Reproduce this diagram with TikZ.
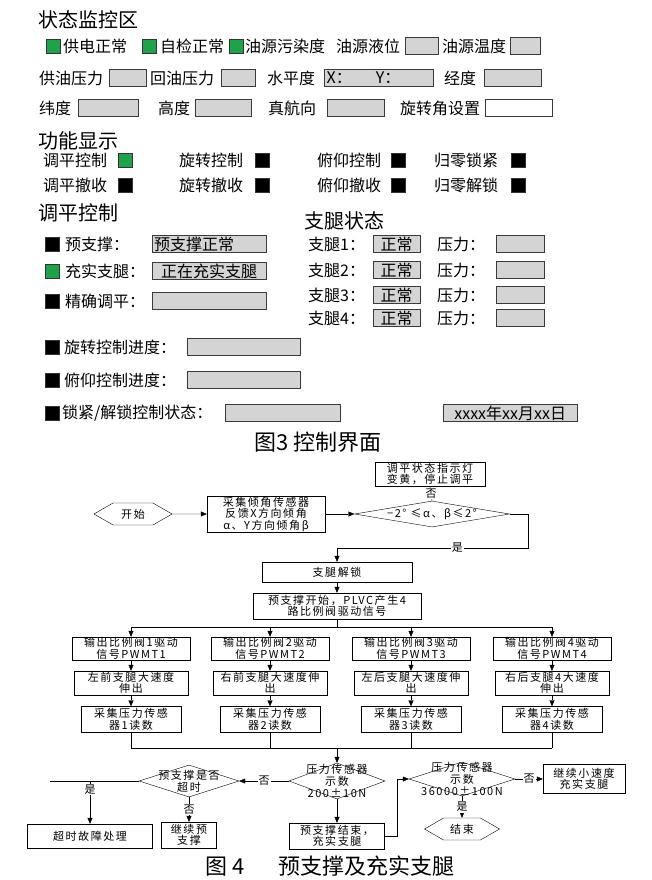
\documentclass[tikz,border=0pt]{standalone}
\usepackage{fontspec}
\newfontfamily\cjk{Noto Sans CJK SC}
\newfontfamily\cjkw[LetterSpace=14]{Noto Sans CJK SC}
\usepackage{tikz}
\usetikzlibrary{arrows.meta,positioning,shapes.geometric,shapes.symbols}
\usepackage{xcolor}
\definecolor{LampGreen}{HTML}{1FA24A}
\definecolor{PanelGray}{HTML}{D4D4D4}
\definecolor{EdgeGray}{HTML}{3A3A3A}

\begin{document}
\begin{tikzpicture}[x=1pt,y=-1pt,>={Triangle[length=6pt,width=5pt]},
  every node/.style={font=\cjk\fontsize{16}{18}\selectfont},
  head/.style={anchor=west,inner sep=0pt,font=\cjk\fontsize{20}{22}\selectfont},
  lbl/.style={anchor=west,inner sep=0pt},
  lamp/.style={draw=black!80,fill=#1,minimum size=14pt,inner sep=0pt},
  lamp/.default=black,
  field/.style={anchor=west,draw=EdgeGray,fill=PanelGray,minimum width=#1,minimum height=17pt,inner sep=1pt},
  proc/.style={draw,align=center,inner sep=0.5pt,font=\cjkw\fontsize{11}{11.5}\selectfont},
  dec/.style={diamond,draw,inner sep=0pt},
  dtxt/.style={align=center,inner sep=0pt,font=\cjkw\fontsize{11}{12}\selectfont},
  term/.style={shape=signal,signal to=west and east,signal pointer angle=60,draw,inner sep=1pt,font=\cjkw\fontsize{11}{12}\selectfont},
  tag/.style={fill=white,inner sep=1pt,font=\cjk\fontsize{11}{12}\selectfont}]
  \path[use as bounding box,fill=white] (0,0) rectangle (652,880);

  \node[head] (tMon) at (38,20) {状态监控区};
  \node[lamp=LampGreen] (gPow) at (53,46) {};
  \node[lbl] (tPow) at (63,46) {供电正常};
  \node[lamp=LampGreen] (gChk) at (149,46) {};
  \node[lbl] (tChk) at (160,46) {自检正常};
  \node[lamp=LampGreen] (gPol) at (236,46) {};
  \node[lbl] (tPol) at (245,46) {油源污染度};
  \node[lbl] (tLev) at (336,46) {油源液位};
  \node[field=33pt] (fLev) at (405,46) {};
  \node[lbl] (tTmp) at (442,46) {油源温度};
  \node[field=30pt] (fTmp) at (510,46) {};

  \node[lbl] (tSup) at (39,78) {供油压力};
  \node[field=37pt] (fSup) at (109,78) {};
  \node[lbl] (tRet) at (150,78) {回油压力};
  \node[field=34pt] (fRet) at (221,78) {};
  \node[lbl] (tHor) at (267,78) {水平度};
  \node[field=109pt,text width=104pt,align=left] (fHor) at (324,78) {X：\hspace{24pt}Y：};
  \node[lbl] (tLon) at (444,78) {经度};
  \node[field=57pt] (fLon) at (484,78) {};

  \node[lbl] (tLat) at (39,108) {纬度};
  \node[field=60pt] (fLat) at (78,108) {};
  \node[lbl] (tAlt) at (158,108) {高度};
  \node[field=56pt] (fAlt) at (195,108) {};
  \node[lbl] (tHdg) at (268,108) {真航向};
  \node[field=57pt] (fHdg) at (327,108) {};
  \node[lbl] (tRot) at (400,108) {旋转角设置};
  \node[field=67pt,fill=white] (fRot) at (485,108) {};

  \node[head] (tFun) at (38,141) {功能显示};
  \foreach \xa/\xb/\ta/\tb/\c [count=\i] in {43/125/调平控制/调平撤收/LampGreen,179/262/旋转控制/旋转撤收/black,317/398/俯仰控制/俯仰撤收/black,434/518/归零锁紧/归零解锁/black}{
    \node[lbl] (fa\i) at (\xa,160) {\ta};
    \node[lamp=\c] (la\i) at (\xb,160) {};
    \node[lbl] (fb\i) at (\xa,185) {\tb};
    \node[lamp] (lb\i) at (\xb,185) {};
  }

  \node[head] (tCtl) at (38,213) {调平控制};
  \foreach \y/\c/\t [count=\i] in {244/black/预支撑：,271/LampGreen/充实支腿：,301/black/精确调平：}{
    \node[lamp=\c] (lc\i) at (52,\y) {};
    \node[lbl] (tc\i) at (65,\y) {\t};
  }
  \node[field=114pt,text width=110pt,align=left] (fc1) at (152,244) {预支撑正常};
  \node[field=114pt] (fc2) at (152,271) {正在充实支腿};
  \node[field=114pt] (fc3) at (152,301) {};

  \node[head] (tLeg) at (304,221) {支腿状态};
  \foreach \k/\y in {1/244,2/270,3/295,4/318}{
    \node[lbl] (leg\k) at (308,\y) {支腿\k：};
    \node[field=47pt] (st\k) at (373,\y) {正常};
    \node[lbl] (pl\k) at (437,\y) {压力：};
    \node[field=48pt] (pv\k) at (496,\y) {};
  }

  \node[lamp] (lRot) at (52,347) {};
  \node[lbl] (tRotP) at (64,347) {旋转控制进度：};
  \node[field=113pt] (fRotP) at (187,347) {};
  \node[lamp] (lPit) at (52,380) {};
  \node[lbl] (tPitP) at (64,380) {俯仰控制进度：};
  \node[field=113pt] (fPitP) at (187,380) {};
  \node[lamp] (lLock) at (52,413) {};
  \node[lbl] (tLock) at (62,413) {锁紧/解锁控制状态：};
  \node[field=115pt] (fLock) at (225,413) {};
  \node[field=134pt] (fDate) at (443,413) {xxxx年xx月xx日};
  \node[font=\cjk\fontsize{22}{24}\selectfont] (cap3) at (318,442) {图3 控制界面};

  \node[proc,minimum width=110pt,minimum height=24pt] (warn) at (430,474) {调平状态指示灯\\变黄，停止调平};
  \node[term,minimum width=78pt,minimum height=22pt] (start) at (133,514) {开始};
  \node[proc,minimum width=118pt,minimum height=35pt] (acq) at (266,514) {采集倾角传感器\\反馈X方向倾角\\α、Y方向倾角β};
  \node[dec,minimum width=155pt,minimum height=26pt,label={[dtxt]center:−2° ≤α、β≤2°}] (dLvl) at (432,514) {};
  \coordinate (turn) at (528,548);
  \node[proc,minimum width=150pt,minimum height=20pt] (unlock) at (337,572) {支腿解锁};
  \node[proc,minimum width=168pt,minimum height=26pt] (pre) at (337,606) {预支撑开始，PLVC产生4\\路比例阀驱动信号};
  \draw[->] (start) -- (acq);
  \draw[->] (acq) -- (dLvl);
  \draw (dLvl.north) -- node[tag]{否} (warn.south);
  \draw[->] (dLvl.east) -| (turn) -- node[tag,pos=0.37]{是} (turn -| unlock.north) -- (unlock.north);
  \draw[->] (unlock) -- (pre);

  \coordinate (busT) at (337,627);
  \coordinate (busB) at (337,748);
  \foreach \i/\cx/\ta/\tb in {1/131/左前支腿大速度/伸出,2/270/右前支腿大速度伸/出,3/411/左后支腿大速度伸/出,4/552/右后支腿4大速度/伸出}{
    \node[proc,minimum width=118pt,minimum height=23pt] (pw\i) at (\cx,648.5) {输出比例阀\i 驱动\\信号PWMT\i};
    \node[proc,minimum width=114pt,minimum height=24pt] (ext\i) at (\cx,683) {\ta\\\tb};
    \node[proc,minimum width=100pt,minimum height=26pt] (rd\i) at (\cx,719.5) {采集压力传感\\器\i 读数};
    \draw[->] (busT -| pw\i) -- (pw\i);
    \draw[->] (pw\i) -- (ext\i);
    \draw[->] (ext\i) -- (rd\i);
    \draw (rd\i) -- (busB -| rd\i);
  }
  \draw (pre) -- (busT);
  \draw (busT -| pw1) -- (busT -| pw4);
  \draw (busB -| rd1) -- (busB -| rd4);

  \node[dec,minimum width=96pt,minimum height=36pt,label={[dtxt]center:压力传感器\\示数\\200±10N}] (dP) at (337,781) {};
  \node[dec,minimum width=100pt,minimum height=32pt,label={[dtxt]center:预支撑是否\\超时}] (dT) at (189,781) {};
  \node[dec,minimum width=106pt,minimum height=34pt,label={[dtxt]center:压力传感器\\示数\\36000±100N}] (dF) at (462,779) {};
  \node[proc,minimum width=125pt,minimum height=24pt] (fault) at (90,836) {超时故障处理};
  \node[proc,minimum width=55pt,minimum height=26pt] (goPre) at (189,835) {继续预\\支撑};
  \node[proc,minimum width=95pt,minimum height=26pt] (endPre) at (337,836) {预支撑结束，\\充实支腿};
  \node[proc,minimum width=82pt,minimum height=29pt] (goFill) at (584,779) {继续小速度\\充实支腿};
  \node[term,minimum width=75pt,minimum height=22pt] (stop) at (462,829) {结束};
  \coordinate (tEnd) at (50,781);
  \draw[->] (busB) -- (dP.north);
  \draw[->] (dP.west) -- node[tag]{否} (dT.east);
  \draw (dT.west) -- (tEnd);
  \draw[->] (dT.west -| fault.north) -- node[tag,pos=0.2]{是} (fault.north);
  \draw[->] (dT.south) -- node[tag]{否} (goPre.north);
  \draw[->] (dP.south) -- (endPre.north);
  \draw[->] (endPre.east) -- ++(12,0) |- (dF.west);
  \draw[->] (dF.east) -- node[tag]{否} (goFill.west);
  \draw[->] (dF.south) -- node[tag]{是} (stop.north);
  \node[font=\cjk\fontsize{22}{24}\selectfont] (cap4) at (330,866) {图 4\hspace{33pt}预支撑及充实支腿};
\end{tikzpicture}
\end{document}
